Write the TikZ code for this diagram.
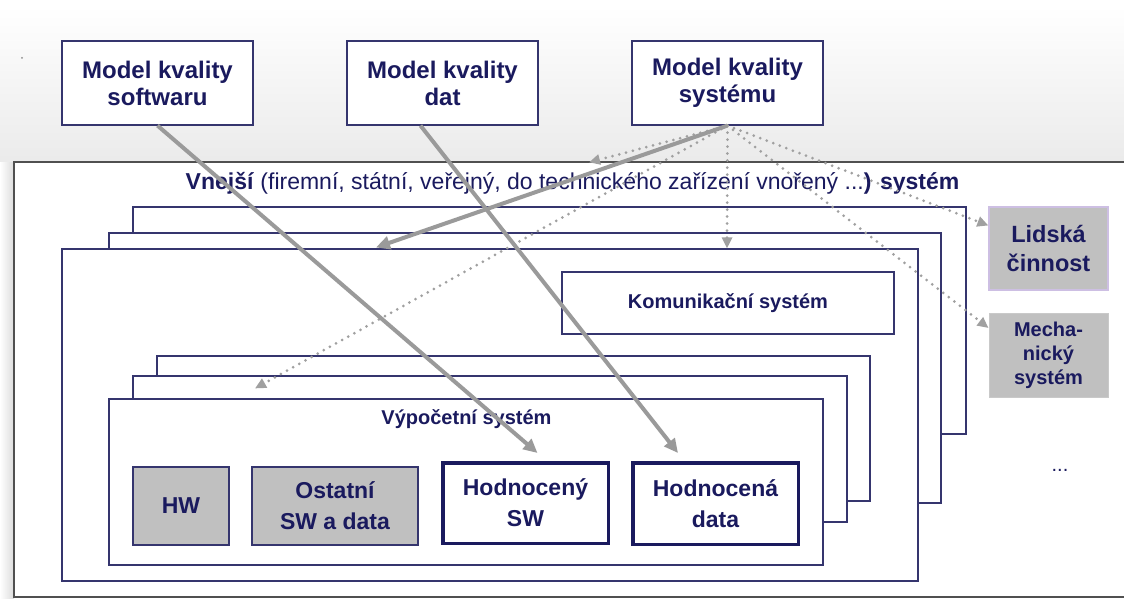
\documentclass[tikz,border=0pt]{standalone}
\usepackage{fontspec}
\setmainfont{Liberation Sans}
\usetikzlibrary{arrows.meta}
\definecolor{ink}{HTML}{1A1A5E}
\definecolor{frame}{HTML}{35356E}
\definecolor{conn}{HTML}{9A9A9A}
\definecolor{dotc}{HTML}{A0A0A0}
\definecolor{boxgray}{HTML}{C0C0C0}
\definecolor{lilac}{HTML}{CDBFE3}
\definecolor{rim}{HTML}{505050}
\begin{document}
\begin{tikzpicture}[x=1pt,y=-1pt,
  modelbox/.style={draw=frame, line width=1.2pt, fill=white, text=ink, align=center,
    font=\fontsize{24}{27}\selectfont\bfseries, minimum width=191pt, minimum height=84pt, inner sep=0pt},
  sysframe/.style={draw=frame, line width=1.1pt, fill=white, inner sep=0pt},
  graypart/.style={draw=frame, line width=1.1pt, fill=boxgray, text=ink, align=center,
    font=\fontsize{23}{31}\selectfont\bfseries, inner sep=0pt},
  evalpart/.style={draw=ink, line width=3.5pt, fill=white, text=ink, align=center,
    font=\fontsize{23}{31}\selectfont\bfseries, inner sep=0pt},
  sidebox/.style={fill=boxgray, text=ink, align=center, inner sep=0pt,
    minimum width=119pt},
  solidconn/.style={draw=conn, line width=4pt, -{Triangle[length=14pt,width=13pt]}},
  dotconn/.style={draw=dotc, line width=3pt, line cap=round, dash pattern=on 0pt off 7pt,
    -{Triangle[length=11pt,width=10pt]}}]
\clip (0,0) rectangle (1124,599);
% page background
\fill[white] (0,0) rectangle (1124,599);
\shade[top color=white, bottom color=black!8] (0,6) rectangle (1124,162);
\shade[left color=white, right color=black!14] (0,162) rectangle (14,599);
\fill[black!45] (22,58) circle (1pt);

% outer (embedding) system
\node[draw=rim, line width=1.3pt, fill=white, minimum width=1116pt, minimum height=435pt, inner sep=0pt]
  (outer) at (572,379.5) {};
\node[anchor=base, text=ink, font=\fontsize{23}{27}\selectfont] (outlabel) at (572.5,189)
  {\textbf{Vnejší} (firemní, státní, veřejný, do technického zařízení vnořený ...\textbf{) systém}};

% stack of systems
\node[sysframe, minimum width=833pt, minimum height=227pt] (ext1) at (549.5,320.5) {};
\node[sysframe, minimum width=832pt, minimum height=270pt] (ext2) at (525,368) {};
\node[sysframe, minimum width=856pt, minimum height=332pt] (ext3) at (490,415) {};
\node[sysframe, minimum width=332pt, minimum height=62pt, text=ink,
  font=\fontsize{20}{24}\selectfont\bfseries] (kom) at (728,303) {Komunikační systém};

% stack of computing systems
\node[sysframe, minimum width=713pt, minimum height=145pt] (comp1) at (513.5,428.5) {};
\node[sysframe, minimum width=714pt, minimum height=146pt] (comp2) at (490,449) {};
\node[sysframe, minimum width=714pt, minimum height=166pt] (comp3) at (466,482) {};
\node[anchor=base, text=ink, font=\fontsize{20}{24}\selectfont\bfseries] (complabel) at (466.5,424)
  {Výpočetní systém};

% parts of the computing system
\node[graypart, minimum width=96pt, minimum height=78pt] (hw) at (181,506) {HW};
\node[graypart, minimum width=166pt, minimum height=78pt] (other) at (335,506) {Ostatní\\SW a data};
\node[evalpart, minimum width=165.5pt, minimum height=80.5pt] (sw) at (525.5,503) {Hodnocený\\SW};
\node[evalpart, minimum width=165.5pt, minimum height=81.5pt] (data) at (715.5,503.5) {Hodnocená\\data};

% other kinds of systems
\node[sidebox, draw=lilac, line width=1.3pt, minimum height=83pt,
  font=\fontsize{23.5}{29}\selectfont\bfseries] (human) at (1048.5,248.5) {Lidská\\činnost};
\node[sidebox, draw=boxgray!85!white, line width=1pt, minimum height=84pt,
  font=\fontsize{20}{24}\selectfont\bfseries] (mech) at (1048.5,355) {Mecha-\\nický\\systém};
\node[text=ink, font=\fontsize{20}{24}\selectfont] (more) at (1060,470) {...};

% quality models
\node[modelbox] (msw) at (157.5,83) {Model kvality\\softwaru};
\node[modelbox] (mdat) at (442.5,83) {Model kvality\\dat};
\node[modelbox] (msys) at (727.5,83) {Model kvality\\systému};

% where the connectors land
\coordinate (onouter) at ([xshift=17pt,yshift=-1pt]outer.north);
\coordinate (onext) at ([xshift=-114pt,yshift=1pt]ext3.north);
\coordinate (onextmid) at ([xshift=237pt]ext3.north);
\coordinate (oncomp) at ([xshift=-211pt,yshift=10pt]comp3.north);

% system quality model: dotted links
\draw[dotconn] (msys.south) -- (onouter);
\draw[dotconn] (msys.south) -- (oncomp);
\draw[dotconn] (msys.south) -- (onextmid);
\draw[dotconn] (msys.south) -- ([yshift=23pt]human.west);
\draw[dotconn] (msys.south) -- ([yshift=27pt]mech.west);

% solid links
\draw[solidconn] (msys.south) -- (onext);
\draw[solidconn] (msw.south) -- ([xshift=12pt,yshift=8pt]sw.north);
\draw[solidconn] ([xshift=-22pt]mdat.south) -- ([xshift=-37.5pt,yshift=8pt]data.north);
\end{tikzpicture}
\end{document}
